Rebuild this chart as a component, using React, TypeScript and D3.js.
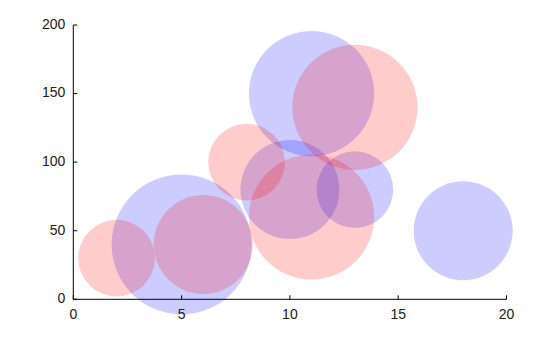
import React from "react";
import * as d3 from "d3";

const blueX = [5, 11, 10, 13, 18];
const blueY = [40, 150, 80, 80, 50];
const blueSize = [10, 8, 5, 3, 5];

const redX = [2, 6, 8, 11, 13];
const redY = [30, 40, 100, 60, 140];
const redSize = [3, 5, 3, 8, 8];

const xTicks = [0, 5, 10, 15, 20];
const yTicks = [0, 50, 100, 150, 200];

const W = 560;
const H = 337;
const left = 73.3;
const right = 506.5;
const top = 25;
const bottom = 299.3;

export default function App() {
  const x = d3.scaleLinear().domain([0, 20]).range([left, right]);
  const y = d3.scaleLinear().domain([0, 200]).range([bottom, top]);
  const r = d3.scaleSqrt().domain([0, 10]).range([0, 70]);
  const font = "'Liberation Sans', Arial, sans-serif";

  const blue = blueX.map((v, i) => ({ x: v, y: blueY[i], s: blueSize[i] }));
  const red = redX.map((v, i) => ({ x: v, y: redY[i], s: redSize[i] }));

  return (
    <svg
      width={W}
      height={H}
      style={{ position: "absolute", left: 0, top: 0, background: "#fff" }}
    >
      <g>
        {blue.map((d, i) => (
          <circle
            key={"b" + i}
            cx={x(d.x)}
            cy={y(d.y)}
            r={r(d.s)}
            fill="rgb(0,0,255)"
            fillOpacity={0.2}
          />
        ))}
        {red.map((d, i) => (
          <circle
            key={"r" + i}
            cx={x(d.x)}
            cy={y(d.y)}
            r={r(d.s)}
            fill="rgb(255,0,0)"
            fillOpacity={0.2}
          />
        ))}
      </g>
      <g stroke="#000" strokeWidth={1} fill="none">
        <line x1={left} x2={left} y1={top} y2={bottom} />
        <line x1={left} x2={right} y1={bottom} y2={bottom} />
        {xTicks.map((t) => (
          <line key={"xt" + t} x1={x(t)} x2={x(t)} y1={bottom} y2={bottom - 4} />
        ))}
        {yTicks.map((t) => (
          <line key={"yt" + t} x1={left} x2={left + 4} y1={y(t)} y2={y(t)} />
        ))}
      </g>
      <g fontFamily={font} fontSize={14} fill="#222">
        {xTicks.map((t) => (
          <text key={"xl" + t} x={x(t)} y={bottom + 20} textAnchor="middle">
            {t}
          </text>
        ))}
        {yTicks.map((t) => (
          <text
            key={"yl" + t}
            x={left - 8}
            y={y(t)}
            dy="0.27em"
            textAnchor="end"
          >
            {t}
          </text>
        ))}
      </g>
    </svg>
  );
}
